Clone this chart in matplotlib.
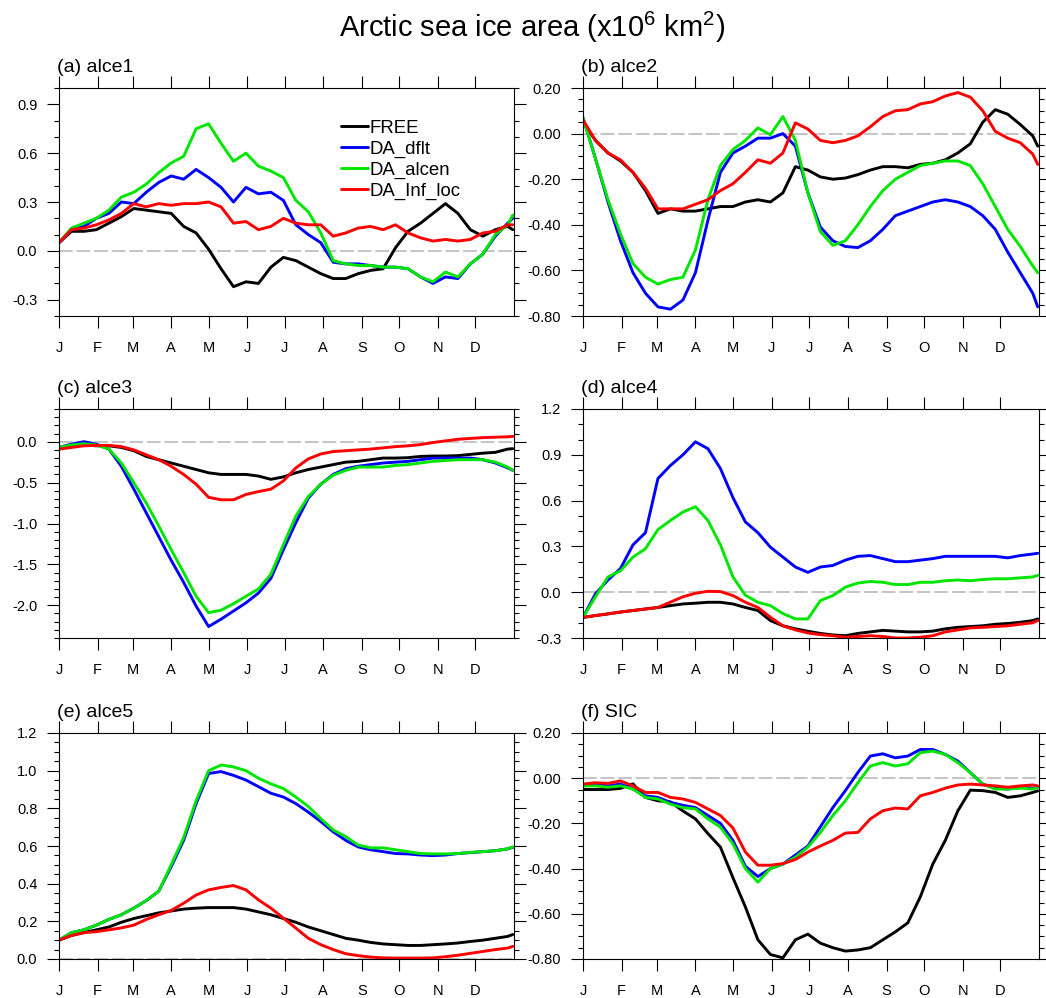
import matplotlib
matplotlib.use("Agg")
import matplotlib.pyplot as plt
from matplotlib.ticker import MultipleLocator, FixedLocator, FormatStrFormatter

plt.rcParams['font.family'] = ['Liberation Sans', 'DejaVu Sans']
plt.rcParams['mathtext.default'] = 'regular'
plt.rcParams['axes.unicode_minus'] = False

# ---------------- data ----------------
DAYS = [0, 10, 20, 30, 40, 50, 60, 70, 80, 90, 100, 110, 120, 130, 140, 150, 160, 170, 180,
        190, 200, 210, 220, 230, 240, 250, 260, 270, 280, 290, 300, 310, 320, 330, 340, 350, 360, 364]
MONTH_STARTS = [0, 31, 59, 90, 120, 151, 181, 212, 243, 273, 304, 334]
MONTH_LABELS = ["J", "F", "M", "A", "M", "J", "J", "A", "S", "O", "N", "D"]
SERIES_NAMES = ["FREE", "DA_dflt", "DA_alcen", "DA_Inf_loc"]
PANEL_TITLES = ["(a) alce1", "(b) alce2", "(c) alce3", "(d) alce4", "(e) alce5", "(f) SIC"]

# (a) alce1
A_FREE = [0.05, 0.12, 0.12, 0.13, 0.17, 0.21, 0.26, 0.25, 0.24, 0.23, 0.15, 0.11, 0.01, -0.11, -0.22, -0.19,
          -0.20, -0.10, -0.04, -0.06, -0.10, -0.14, -0.17, -0.17, -0.14, -0.12, -0.11, 0.02, 0.12, 0.17, 0.23,
          0.29, 0.23, 0.13, 0.09, 0.13, 0.15, 0.13]
A_DFLT = [0.05, 0.13, 0.15, 0.20, 0.23, 0.30, 0.29, 0.36, 0.42, 0.46, 0.44, 0.50, 0.45, 0.39, 0.30, 0.39,
          0.35, 0.36, 0.31, 0.16, 0.10, 0.05, -0.07, -0.08, -0.08, -0.09, -0.10, -0.10, -0.11, -0.16, -0.20,
          -0.16, -0.17, -0.08, -0.02, 0.09, 0.17, 0.20]
A_ALCEN = [0.05, 0.14, 0.17, 0.20, 0.25, 0.33, 0.36, 0.41, 0.48, 0.54, 0.58, 0.75, 0.78, 0.66, 0.55, 0.60,
           0.52, 0.49, 0.45, 0.31, 0.24, 0.11, -0.06, -0.08, -0.09, -0.09, -0.10, -0.10, -0.11, -0.16, -0.19,
           -0.13, -0.16, -0.08, -0.02, 0.10, 0.16, 0.22]
A_INF = [0.05, 0.13, 0.14, 0.16, 0.19, 0.23, 0.29, 0.27, 0.29, 0.28, 0.29, 0.29, 0.30, 0.27, 0.17, 0.18,
         0.13, 0.15, 0.20, 0.17, 0.16, 0.16, 0.09, 0.11, 0.14, 0.15, 0.13, 0.16, 0.11, 0.08, 0.06, 0.07,
         0.06, 0.07, 0.11, 0.12, 0.16, 0.16]

# (b) alce2
B_FREE = [0.05, -0.03, -0.085, -0.12, -0.17, -0.25, -0.35, -0.33, -0.34, -0.34, -0.33, -0.32, -0.32, -0.30,
          -0.29, -0.30, -0.26, -0.145, -0.16, -0.19, -0.20, -0.195, -0.18, -0.16, -0.145, -0.145, -0.15,
          -0.135, -0.13, -0.115, -0.085, -0.045, 0.05, 0.105, 0.085, 0.04, -0.01, -0.055]
B_DFLT = [0.07, -0.11, -0.30, -0.47, -0.61, -0.70, -0.76, -0.77, -0.73, -0.61, -0.38, -0.17, -0.085, -0.055,
          -0.02, -0.02, 0.00, -0.055, -0.26, -0.41, -0.47, -0.495, -0.50, -0.47, -0.42, -0.36, -0.34, -0.32,
          -0.30, -0.29, -0.30, -0.32, -0.36, -0.42, -0.52, -0.61, -0.70, -0.76]
B_ALCEN = [0.07, -0.11, -0.29, -0.44, -0.57, -0.63, -0.66, -0.64, -0.63, -0.51, -0.29, -0.14, -0.07, -0.03,
           0.025, -0.005, 0.075, -0.03, -0.26, -0.43, -0.49, -0.47, -0.40, -0.32, -0.25, -0.20, -0.17, -0.14,
           -0.13, -0.12, -0.12, -0.14, -0.22, -0.32, -0.42, -0.495, -0.58, -0.61]
B_INF = [0.06, -0.03, -0.085, -0.115, -0.17, -0.24, -0.33, -0.33, -0.33, -0.31, -0.29, -0.25, -0.22, -0.17,
         -0.115, -0.13, -0.085, 0.047, 0.02, -0.03, -0.04, -0.03, -0.01, 0.03, 0.075, 0.10, 0.105, 0.13, 0.14,
         0.165, 0.18, 0.16, 0.10, 0.01, -0.02, -0.04, -0.09, -0.135]

# (c) alce3
C_FREE = [-0.09, -0.05, -0.04, -0.05, -0.05, -0.07, -0.11, -0.18, -0.22, -0.26, -0.30, -0.34, -0.38, -0.40,
          -0.40, -0.40, -0.42, -0.46, -0.43, -0.38, -0.34, -0.31, -0.28, -0.25, -0.24, -0.22, -0.20, -0.20,
          -0.195, -0.18, -0.175, -0.175, -0.17, -0.155, -0.14, -0.13, -0.09, -0.085]
C_DFLT = [-0.07, -0.03, 0.00, -0.03, -0.09, -0.30, -0.58, -0.87, -1.16, -1.45, -1.72, -2.01, -2.26, -2.17,
          -2.07, -1.97, -1.85, -1.67, -1.32, -0.99, -0.69, -0.52, -0.40, -0.33, -0.30, -0.28, -0.26, -0.25,
          -0.24, -0.22, -0.20, -0.20, -0.20, -0.20, -0.22, -0.26, -0.32, -0.35]
C_ALCEN = [-0.07, -0.04, -0.025, -0.04, -0.09, -0.26, -0.50, -0.75, -1.03, -1.32, -1.60, -1.89, -2.09, -2.06,
           -1.98, -1.89, -1.80, -1.62, -1.26, -0.91, -0.67, -0.52, -0.41, -0.35, -0.31, -0.31, -0.31, -0.29,
           -0.28, -0.26, -0.24, -0.23, -0.22, -0.22, -0.22, -0.25, -0.31, -0.35]
C_INF = [-0.09, -0.07, -0.05, -0.045, -0.045, -0.06, -0.10, -0.16, -0.22, -0.30, -0.40, -0.52, -0.68, -0.71,
         -0.71, -0.645, -0.61, -0.58, -0.48, -0.32, -0.21, -0.15, -0.12, -0.11, -0.10, -0.09, -0.075, -0.06,
         -0.05, -0.035, -0.01, 0.01, 0.03, 0.04, 0.05, 0.055, 0.06, 0.065]

# (d) alce4
D_FREE = [-0.165, -0.153, -0.142, -0.13, -0.12, -0.11, -0.10, -0.088, -0.077, -0.072, -0.066, -0.066, -0.077,
          -0.10, -0.12, -0.186, -0.22, -0.24, -0.256, -0.27, -0.28, -0.285, -0.27, -0.26, -0.25, -0.255, -0.26,
          -0.26, -0.255, -0.24, -0.23, -0.225, -0.22, -0.21, -0.205, -0.197, -0.186, -0.175]
D_DFLT = [-0.165, -0.01, 0.08, 0.155, 0.31, 0.39, 0.745, 0.83, 0.90, 0.985, 0.94, 0.81, 0.62, 0.46, 0.39,
          0.295, 0.23, 0.165, 0.13, 0.165, 0.175, 0.21, 0.235, 0.24, 0.22, 0.20, 0.20, 0.21, 0.22, 0.235,
          0.235, 0.235, 0.235, 0.235, 0.225, 0.24, 0.25, 0.255]
D_ALCEN = [-0.165, -0.03, 0.10, 0.14, 0.23, 0.285, 0.41, 0.47, 0.525, 0.56, 0.47, 0.31, 0.10, -0.02, -0.066,
           -0.088, -0.14, -0.175, -0.175, -0.055, -0.022, 0.033, 0.06, 0.07, 0.065, 0.05, 0.05, 0.065, 0.065,
           0.075, 0.08, 0.075, 0.083, 0.088, 0.088, 0.094, 0.10, 0.11]
D_INF = [-0.165, -0.153, -0.142, -0.13, -0.12, -0.11, -0.10, -0.065, -0.03, -0.007, 0.006, 0.004, -0.022,
         -0.066, -0.10, -0.164, -0.22, -0.247, -0.267, -0.278, -0.285, -0.295, -0.29, -0.285, -0.29, -0.30,
         -0.30, -0.295, -0.285, -0.26, -0.247, -0.234, -0.23, -0.225, -0.22, -0.21, -0.20, -0.186]

# (e) alce5
E_FREE = [0.10, 0.125, 0.14, 0.155, 0.17, 0.195, 0.215, 0.23, 0.245, 0.255, 0.265, 0.27, 0.273, 0.273, 0.273,
          0.265, 0.25, 0.235, 0.215, 0.195, 0.17, 0.15, 0.13, 0.11, 0.10, 0.088, 0.08, 0.076, 0.072, 0.072,
          0.076, 0.08, 0.085, 0.093, 0.10, 0.11, 0.12, 0.13]
E_DFLT = [0.10, 0.14, 0.155, 0.18, 0.21, 0.235, 0.27, 0.31, 0.36, 0.49, 0.63, 0.825, 0.985, 0.995, 0.975,
          0.95, 0.915, 0.88, 0.86, 0.825, 0.78, 0.73, 0.675, 0.63, 0.595, 0.58, 0.57, 0.56, 0.558, 0.552,
          0.549, 0.552, 0.56, 0.565, 0.57, 0.575, 0.585, 0.593]
E_ALCEN = [0.10, 0.14, 0.155, 0.18, 0.21, 0.235, 0.27, 0.31, 0.36, 0.50, 0.645, 0.84, 1.00, 1.03, 1.02, 1.00,
           0.96, 0.93, 0.905, 0.86, 0.81, 0.745, 0.685, 0.65, 0.605, 0.59, 0.59, 0.58, 0.57, 0.56, 0.558,
           0.558, 0.56, 0.566, 0.57, 0.575, 0.585, 0.596]
E_INF = [0.10, 0.125, 0.14, 0.145, 0.155, 0.165, 0.18, 0.21, 0.235, 0.258, 0.296, 0.34, 0.367, 0.38, 0.39,
         0.367, 0.314, 0.27, 0.217, 0.164, 0.11, 0.076, 0.05, 0.028, 0.018, 0.01, 0.006, 0.005, 0.005, 0.005,
         0.006, 0.012, 0.02, 0.03, 0.04, 0.05, 0.058, 0.067]

# (f) SIC
F_FREE = [-0.05, -0.05, -0.05, -0.045, -0.025, -0.085, -0.10, -0.105, -0.145, -0.18, -0.245, -0.305, -0.44,
          -0.57, -0.715, -0.78, -0.795, -0.715, -0.69, -0.73, -0.75, -0.765, -0.76, -0.75, -0.715, -0.68,
          -0.64, -0.525, -0.38, -0.275, -0.145, -0.053, -0.055, -0.063, -0.085, -0.078, -0.063, -0.056]
F_DFLT = [-0.034, -0.026, -0.034, -0.026, -0.048, -0.078, -0.085, -0.107, -0.12, -0.13, -0.165, -0.20, -0.275,
          -0.39, -0.435, -0.40, -0.38, -0.34, -0.30, -0.215, -0.13, -0.055, 0.025, 0.098, 0.108, 0.09, 0.098,
          0.127, 0.127, 0.105, 0.076, 0.025, -0.026, -0.044, -0.048, -0.04, -0.044, -0.04]
F_ALCEN = [-0.034, -0.034, -0.04, -0.034, -0.048, -0.085, -0.092, -0.115, -0.13, -0.136, -0.18, -0.217, -0.29,
           -0.40, -0.46, -0.40, -0.38, -0.35, -0.305, -0.24, -0.165, -0.10, -0.02, 0.054, 0.069, 0.054, 0.064,
           0.113, 0.12, 0.105, 0.069, 0.025, -0.026, -0.048, -0.048, -0.044, -0.048, -0.04]
F_INF = [-0.026, -0.02, -0.023, -0.012, -0.034, -0.063, -0.063, -0.085, -0.092, -0.107, -0.136, -0.165, -0.22,
         -0.327, -0.385, -0.385, -0.378, -0.36, -0.327, -0.30, -0.275, -0.243, -0.24, -0.18, -0.144, -0.132,
         -0.136, -0.078, -0.063, -0.044, -0.03, -0.026, -0.03, -0.034, -0.04, -0.034, -0.03, -0.034]

PANEL_DATA = [
    (A_FREE, A_DFLT, A_ALCEN, A_INF),
    (B_FREE, B_DFLT, B_ALCEN, B_INF),
    (C_FREE, C_DFLT, C_ALCEN, C_INF),
    (D_FREE, D_DFLT, D_ALCEN, D_INF),
    (E_FREE, E_DFLT, E_ALCEN, E_INF),
    (F_FREE, F_DFLT, F_ALCEN, F_INF),
]

# ---------------- style / layout ----------------
COLORS = ["#000000", "#0000ff", "#00e600", "#ff0000"]
W, H = 1046, 998
# pixel boxes: left, top, right, bottom
BOXES = [
    (59, 88, 514, 316), (583, 88, 1039, 316),
    (59, 409, 514, 638), (583, 409, 1039, 638),
    (59, 733, 514, 959), (583, 733, 1039, 959),
]
YAXES = [  # ylim, major, minor, fmt
    ((-0.4, 1.0), 0.3, 0.1, "%.1f"),
    ((-0.8, 0.2), 0.2, 0.05, "%.2f"),
    ((-2.4, 0.4), 0.5, 0.1, "%.1f"),
    ((-0.3, 1.2), 0.3, 0.1, "%.1f"),
    ((0.0, 1.2), 0.2, 0.05, "%.1f"),
    ((-0.8, 0.2), 0.2, 0.05, "%.2f"),
]

fig = plt.figure(figsize=(W / 100, H / 100), dpi=100)
fig.text(0.509, 1 - 37 / H, "Arctic sea ice area (x10$^{6}$ km$^{2}$)",
         ha="center", va="baseline", fontsize=21)

for i, (box, yax, data, title) in enumerate(zip(BOXES, YAXES, PANEL_DATA, PANEL_TITLES)):
    l, t, r, b = box
    ax = fig.add_axes([l / W, 1 - b / H, (r - l) / W, (b - t) / H])
    ax.axhline(0.0, color="#b4b4b4", lw=1.1, dashes=(9, 2.5), zorder=1)
    handles = []
    for name, vals, col in zip(SERIES_NAMES, data, COLORS):
        h, = ax.plot(DAYS, vals, color=col, lw=2.1, label=name, zorder=2,
                     solid_joinstyle="round", solid_capstyle="round")
        handles.append(h)
    ylim, major, minor, fmt = yax
    ax.set_xlim(0, 365)
    ax.set_ylim(*ylim)
    ax.xaxis.set_major_locator(FixedLocator(MONTH_STARTS))
    ax.set_xticklabels(MONTH_LABELS)
    ax.yaxis.set_major_locator(MultipleLocator(major))
    ax.yaxis.set_minor_locator(MultipleLocator(minor))
    ax.yaxis.set_major_formatter(FormatStrFormatter(fmt))
    ax.tick_params(axis="both", which="major", direction="out", length=8.6, width=0.8,
                   top=True, right=True, labelsize=10.5, pad=7)
    ax.tick_params(axis="x", which="major", pad=9.5)
    ax.tick_params(axis="y", which="minor", direction="out", length=3.8, width=0.8,
                   left=True, right=True)
    for sp in ax.spines.values():
        sp.set_linewidth(0.8)
    ax.annotate(title, xy=(0, 1), xycoords="axes fraction", xytext=(-1.5, 11.5),
                textcoords="offset points", ha="left", va="baseline", fontsize=14)
    if i == 0:
        ax.legend(handles=handles, loc="upper left", bbox_to_anchor=(0.62, 0.86),
                  frameon=False, fontsize=13.4, handlelength=1.45, handletextpad=0.05,
                  labelspacing=0.2, borderpad=0, borderaxespad=0)

fig.savefig("out.png", dpi=100)
